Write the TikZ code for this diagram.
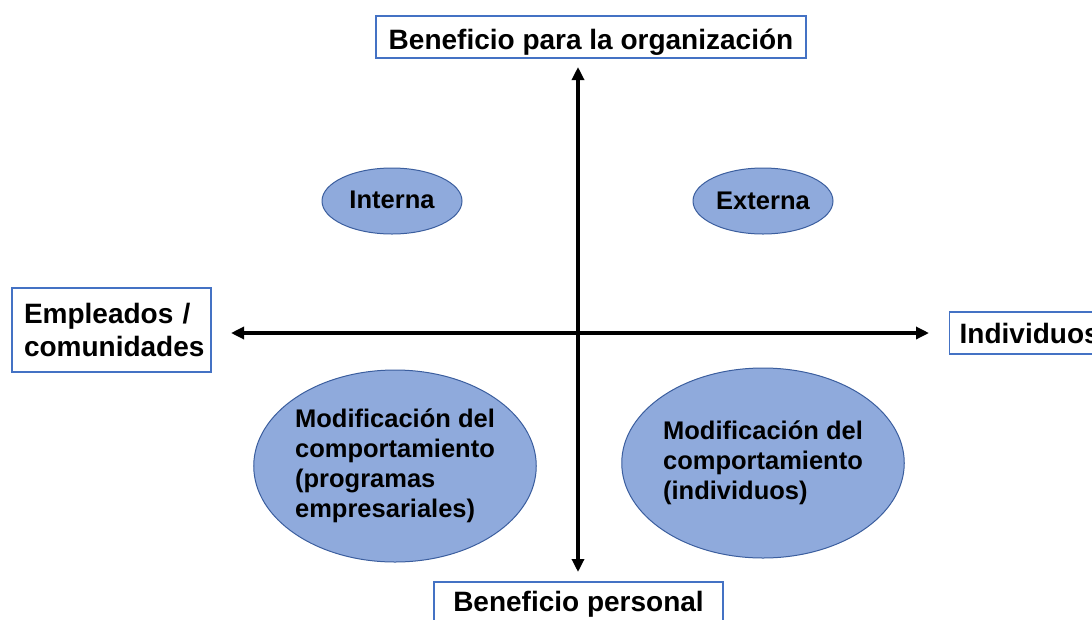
\documentclass[tikz,border=0pt]{standalone}
\usepackage{fontspec}
\setmainfont{Liberation Sans}
\usetikzlibrary{arrows.meta,shapes.geometric}
\definecolor{boxblue}{HTML}{4472C4}
\definecolor{ovalfill}{HTML}{8FAADC}
\definecolor{ovalline}{HTML}{3B5E9E}
\begin{document}
\begin{tikzpicture}[x=1pt,y=-1pt,
  lbl/.style={draw=boxblue,line width=1.3pt,fill=white,inner sep=0pt,
    font=\fontsize{28}{33}\selectfont\bfseries},
  oval/.style={ellipse,draw=ovalline,fill=ovalfill,line width=1pt,inner sep=0pt,
    font=\fontsize{25.5}{30}\selectfont\bfseries,align=left},
  axis/.style={line width=3.2pt,
    {Triangle[length=13pt,width=12pt]}-{Triangle[length=13pt,width=12pt]}}]
\useasboundingbox (0,0) rectangle (1092,619);
\clip (0,0) rectangle (1092,619);
% axes
\coordinate (vt) at (578,67);
\coordinate (vb) at (578,572);
\coordinate (hl) at (231,333);
\coordinate (hr) at (929,333);
\draw[axis] (vt) -- (vb);
\draw[axis] (hl) -- (hr);
% boxes
\node[lbl,minimum width=430,minimum height=42,text height=26pt,text depth=2pt] (top) at (591,37) {Beneficio para la organización};
\node[lbl,minimum width=199,minimum height=84,text width=175,inner xsep=12,align=left,font=\fontsize{28}{33}\selectfont\bfseries] (left) at (111.5,330) {Empleados /\\comunidades};
\node[lbl,anchor=west,minimum height=42,text width=150,inner xsep=10,align=left] (right) at (949,333) {Individuos};
\node[lbl,minimum width=289,minimum height=44,text height=16pt,text depth=2pt] (bottom) at (578.5,604) {Beneficio personal};
% ovals
\node[oval,minimum width=140,minimum height=66] (interna) at (392,201) {\raisebox{2pt}{Interna}};
\node[oval,minimum width=140,minimum height=66] (externa) at (763,201) {Externa};
\node[oval,minimum width=282,minimum height=192] (bl) at (395,466) {Modificación del\\comportamiento\\(programas\\empresariales)};
\node[oval,minimum width=280,minimum height=190] (br) at (763,463) {Modificación del\\comportamiento\\(individuos)};
\end{tikzpicture}
\end{document}
